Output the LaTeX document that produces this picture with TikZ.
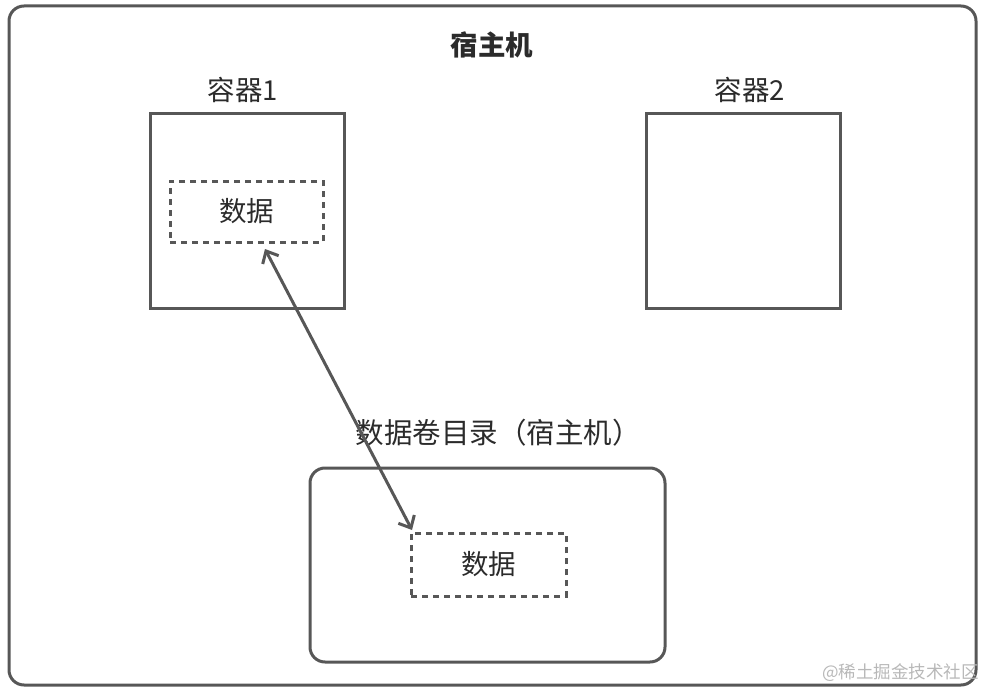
\documentclass[tikz,border=0pt]{standalone}
\usepackage{fontspec}
\setmainfont{Noto Sans CJK SC}
\usetikzlibrary{arrows.meta}
\definecolor{edge}{HTML}{575757}
\definecolor{txt}{HTML}{2B2B2B}
\definecolor{wm}{HTML}{B8B8B8}
\tikzset{
  frame/.style={draw=edge, line width=3pt, rounded corners=15pt, inner sep=0pt},
  cbox/.style={draw=edge, line width=3pt, inner sep=0pt, minimum width=194pt, minimum height=194pt},
  dbox/.style={draw=edge, line width=3pt, dash pattern=on 6pt off 5pt, inner sep=0pt, text=txt, font=\fontsize{27.5}{32}\selectfont},
  lbl/.style={text=txt, inner sep=0pt, font=\fontsize{27.5}{32}\selectfont},
  link/.style={draw=edge, line width=3pt, {Straight Barb[length=10pt,width=18pt]}-{Straight Barb[length=10pt,width=18pt]}}
}
\begin{document}
\begin{tikzpicture}[x=1pt,y=-1pt]
\useasboundingbox (0,0) rectangle (988,690);
\node[frame, minimum width=967pt, minimum height=679pt] (host) at (492.5,345.5) {};
\node[lbl, font=\fontsize{27.5}{32}\selectfont\bfseries] (title) at (492,45) {宿主机};
\node[lbl] (l1) at (243,90) {容器1};
\node[lbl] (l2) at (750,90) {容器2};
\node[cbox] (c1) at (247,211) {};
\node[cbox] (c2) at (743,211) {};
\node[dbox, minimum width=153pt, minimum height=61pt] (d1) at (246.5,211.5) {数据};
\node[lbl, font=\fontsize{28.5}{32}\selectfont] (l3) at (498,433) {数据卷目录（宿主机）};
\node[frame, minimum width=355pt, minimum height=194pt] (vol) at (487.5,565) {};
\node[dbox, minimum width=155pt, minimum height=63pt] (d2) at (488.5,564.5) {数据};
\coordinate (a1) at (265,249);
\coordinate (a2) at (412,530);
\draw[link] (a1) -- (a2);
\node[text=wm, inner sep=0pt, font=\fontsize{17.5}{20}\selectfont, anchor=east] (wmk) at (979,673) {@稀土掘金技术社区};
\end{tikzpicture}
\end{document}
